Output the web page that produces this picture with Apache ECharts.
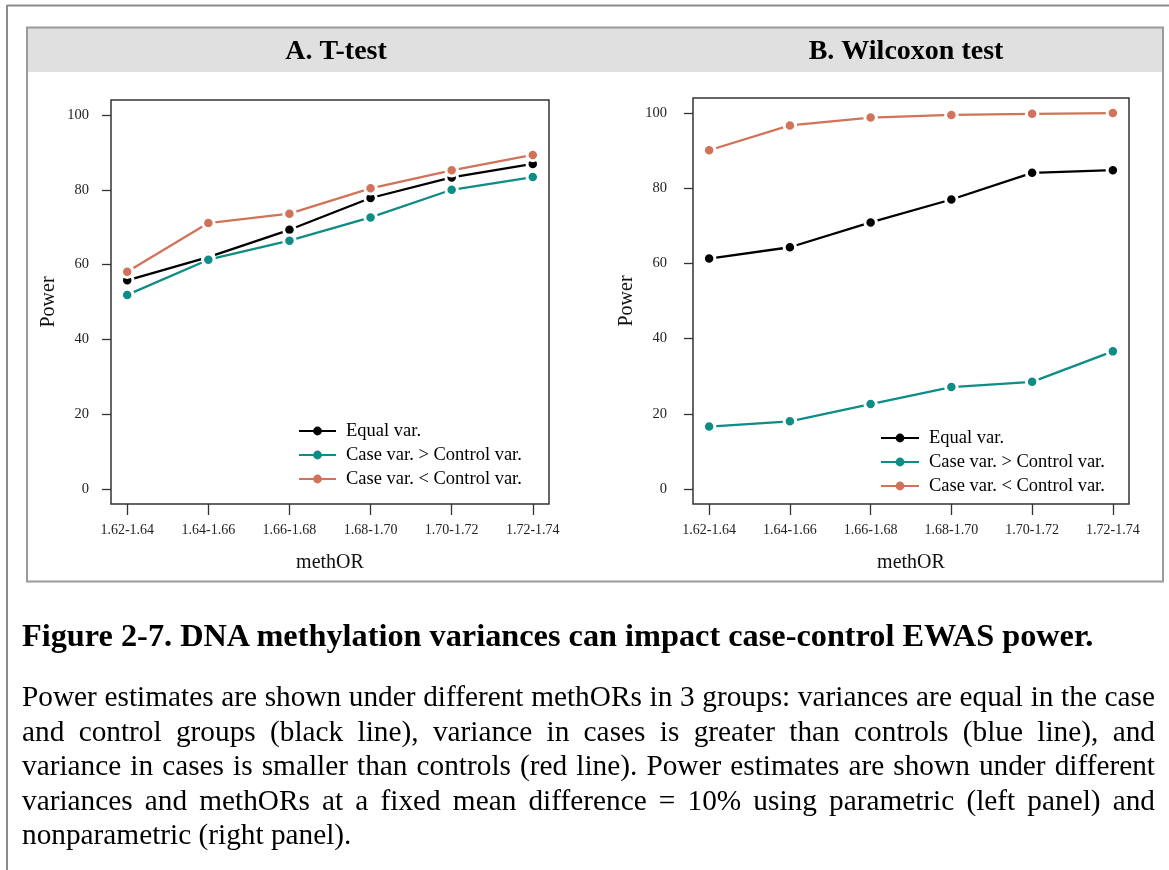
<!DOCTYPE html>
<html>
<head>
<meta charset="utf-8">
<script src="https://cdn.jsdelivr.net/npm/echarts@6/dist/echarts.min.js"></script>
<style>
  html, body { margin: 0; padding: 0; background: #fff; }
  #chart { position: absolute; left: 0; top: 0; width: 1169px; height: 870px; }
  #caption {
    position: absolute; left: 22px; top: 617px; width: 1133px;
    font-family: "Liberation Serif", "Times New Roman", serif; color: #000;
  }
  .fig-title { font-weight: bold; font-size: 32.3px; line-height: 36px; white-space: nowrap; }
  .fig-body { margin-top: 26px; font-size: 29.3px; line-height: 34.5px; }
  .fig-body div { text-align: justify; text-align-last: justify; }
  .fig-body div.last { text-align: left; text-align-last: left; }
</style>
</head>
<body>
<div id="chart"></div>
<div id="caption">
  <div class="fig-title">Figure 2-7. DNA methylation variances can impact case-control EWAS power.</div>
  <div class="fig-body">
    <div>Power estimates are shown under different methORs in 3 groups: variances are equal in the case</div>
    <div>and control groups (black line), variance in cases is greater than controls (blue line), and</div>
    <div>variance in cases is smaller than controls (red line). Power estimates are shown under different</div>
    <div>variances and methORs at a fixed mean difference = 10% using parametric (left panel) and</div>
    <div class="last">nonparametric (right panel).</div>
  </div>
</div>
<script>
// methOR bins on the x axis
const methOR = ['1.62-1.64', '1.64-1.66', '1.66-1.68', '1.68-1.70', '1.70-1.72', '1.72-1.74'];
// y axis ticks (Power, %)
const powerTicks = [0, 20, 40, 60, 80, 100];
const seriesNames = ['Equal var.', 'Case var. > Control var.', 'Case var. < Control var.'];
const panelTitles = ['A. T-test', 'B. Wilcoxon test'];

// A. T-test power
const tEqual = [55.8, 62.0, 69.3, 77.8, 83.3, 86.9];
const tCaseGreater = [51.9, 61.3, 66.4, 72.6, 80.0, 83.4];
const tCaseSmaller = [58.1, 71.1, 73.6, 80.4, 85.2, 89.3];

// B. Wilcoxon test power
const wEqual = [61.3, 64.3, 70.9, 77.0, 84.1, 84.8];
const wCaseGreater = [16.6, 18.0, 22.6, 27.1, 28.5, 36.6];
const wCaseSmaller = [90.1, 96.7, 98.8, 99.5, 99.8, 100.0];

const colors = ['#000000', '#0f8c86', '#d07358'];
const serif = '"Liberation Serif", "Times New Roman", serif';
const xTickValues = methOR.map((_, i) => i + 1);

const chart = echarts.init(document.getElementById('chart'), null, { renderer: 'canvas' });

const grids = [
  { left: 111, top: 100, width: 438, height: 404 },
  { left: 693, top: 98, width: 436, height: 406 }
];

function xAxisFor(idx) {
  return {
    gridIndex: idx, type: 'value', min: 0.8, max: 6.2, position: 'bottom',
    axisLine: { show: false, onZero: false }, splitLine: { show: false },
    axisTick: { show: true, inside: false, length: 11, customValues: xTickValues,
      lineStyle: { color: '#333', width: 1.3 } },
    axisLabel: { show: true, customValues: xTickValues, margin: 19,
      formatter: v => methOR[Math.round(v) - 1],
      fontFamily: serif, fontSize: 14, color: '#222' },
    name: 'methOR', nameLocation: 'middle', nameGap: 49,
    nameTextStyle: { fontFamily: serif, fontSize: 20, color: '#111' }
  };
}
function yAxisFor(idx, labelGap, nameGap) {
  return {
    gridIndex: idx, type: 'value', min: -4, max: 104, position: 'left',
    axisLine: { show: false, onZero: false }, splitLine: { show: false },
    axisTick: { show: true, inside: false, length: 9, customValues: powerTicks,
      lineStyle: { color: '#333', width: 1.3 } },
    axisLabel: { show: true, customValues: powerTicks, margin: labelGap,
      fontFamily: serif, fontSize: 14.5, color: '#222' },
    name: 'Power', nameLocation: 'middle', nameGap: nameGap, nameRotate: 90,
    nameTextStyle: { fontFamily: serif, fontSize: 20, color: '#111' }
  };
}
function lineSeries(name, values, color, idx) {
  return {
    type: 'line', name: name, xAxisIndex: idx, yAxisIndex: idx,
    data: values.map((v, i) => [i + 1, v]),
    symbol: 'circle', symbolSize: 11.5,
    itemStyle: { color: color, borderColor: '#ffffff', borderWidth: 3 },
    lineStyle: { color: color, width: 2.3 },
    emphasis: { disabled: true }, animation: false
  };
}
function legendFor(left, top, width) {
  return {
    orient: 'vertical', left: left, top: top, itemWidth: width, itemHeight: 11, itemGap: 0,
    selectedMode: false, data: seriesNames,
    itemStyle: { borderWidth: 0 }, lineStyle: { width: 2 },
    textStyle: { fontFamily: serif, fontSize: 18.5, color: '#000', lineHeight: 24,
      padding: [0, 0, 0, 5] }
  };
}

const option = {
  backgroundColor: '#ffffff',
  animation: false,
  graphic: [
    { type: 'line', shape: { x1: 7, y1: 5.5, x2: 1169, y2: 5.5 }, style: { stroke: '#8c8c8c', lineWidth: 2 } },
    { type: 'line', shape: { x1: 7, y1: 5, x2: 7, y2: 870 }, style: { stroke: '#8c8c8c', lineWidth: 2 } },
    { type: 'rect', shape: { x: 27, y: 27.5, width: 1136, height: 44.5 }, style: { fill: '#e0e0e0' } },
    { type: 'rect', shape: { x: 27, y: 27.5, width: 1136, height: 554 }, style: { fill: null, stroke: '#9a9a9a', lineWidth: 2 } },
    { type: 'text', x: 336, y: 52, style: { text: panelTitles[0], align: 'center', verticalAlign: 'middle',
      font: 'bold 28px ' + serif, fill: '#000' } },
    { type: 'text', x: 906, y: 52, style: { text: panelTitles[1], align: 'center', verticalAlign: 'middle',
      font: 'bold 28px ' + serif, fill: '#000' } }
  ],
  grid: grids.map(g => Object.assign({ show: true, borderColor: '#333', borderWidth: 1.5,
    backgroundColor: 'transparent', outerBoundsMode: 'none' }, g)),
  xAxis: [xAxisFor(0), xAxisFor(1)],
  yAxis: [yAxisFor(0, 22, 52), yAxisFor(1, 26, 56)],
  legend: [legendFor(293, 414, 37), legendFor(875, 421, 38)],
  series: [
    lineSeries(seriesNames[0], tEqual, colors[0], 0),
    lineSeries(seriesNames[1], tCaseGreater, colors[1], 0),
    lineSeries(seriesNames[2], tCaseSmaller, colors[2], 0),
    lineSeries(seriesNames[0], wEqual, colors[0], 1),
    lineSeries(seriesNames[1], wCaseGreater, colors[1], 1),
    lineSeries(seriesNames[2], wCaseSmaller, colors[2], 1)
  ]
};
chart.setOption(option);
</script>
</body>
</html>
